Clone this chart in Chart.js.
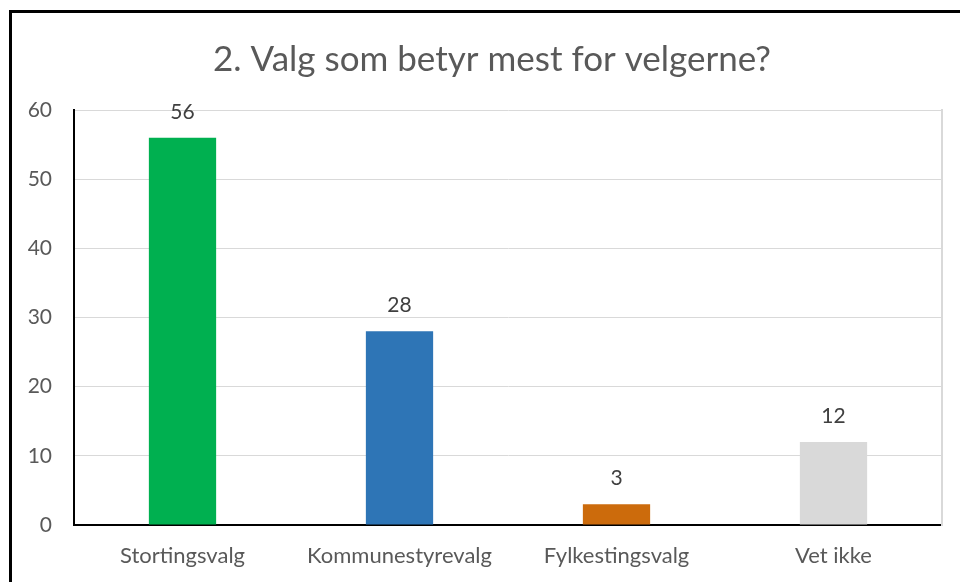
<!DOCTYPE html>
<html lang="no">
<head>
  <meta charset="UTF-8">
  <title>Valg som betyr mest for velgerne</title>
  <script src="https://cdn.jsdelivr.net/npm/chart.js"></script>
  <style>
    html, body { margin: 0; padding: 0; background: #fff; overflow: hidden; }
    #wrap { position: relative; width: 960px; height: 582px; }
    #frame {
      position: absolute; left: 9px; top: 10px; width: 1000px; height: 620px;
      border: 3px solid #000; pointer-events: none; box-sizing: border-box;
    }
  </style>
</head>
<body>
<div id="wrap">
  <canvas id="valgChart" width="960" height="582"></canvas>
  <div id="frame"></div>
</div>

<script>
  const titleText = '2. Valg som betyr mest for velgerne?';
  const categories = ['Stortingsvalg', 'Kommunestyrevalg', 'Fylkestingsvalg', 'Vet ikke'];
  const votes = [56, 28, 3, 12];
  const barColors = ['#00B050', '#2E75B6', '#CC6B0C', '#D9D9D9'];
  const yMax = 60;
  const yStep = 10;

  const fontFamily = 'Lato, Carlito, "Open Sans", sans-serif';
  const textGray = '#595959';

  // title drawn by hand so it can sit a little right of the canvas centre, like the original
  const chartTitle = {
    id: 'chartTitle',
    afterDraw(chart) {
      const ctx = chart.ctx;
      ctx.save();
      ctx.font = '35px ' + fontFamily;
      ctx.fillStyle = textGray;
      ctx.textAlign = 'center';
      ctx.textBaseline = 'alphabetic';
      ctx.fillText(titleText, 492, 71);
      ctx.restore();
    }
  };

  // value labels above the bars
  const valueLabels = {
    id: 'valueLabels',
    afterDatasetsDraw(chart) {
      const ctx = chart.ctx;
      const meta = chart.getDatasetMeta(0);
      ctx.save();
      ctx.font = '21px ' + fontFamily;
      ctx.fillStyle = '#404040';
      ctx.textAlign = 'center';
      ctx.textBaseline = 'alphabetic';
      meta.data.forEach((bar, i) => {
        ctx.fillText(String(votes[i]), bar.x, bar.y - 19);
      });
      ctx.restore();
    }
  };

  Chart.defaults.font.family = fontFamily;
  Chart.defaults.color = textGray;

  new Chart(document.getElementById('valgChart'), {
    type: 'bar',
    data: {
      labels: categories,
      datasets: [{
        data: votes,
        backgroundColor: barColors,
        borderWidth: 0,
        categoryPercentage: 1,
        barPercentage: 0.31
      }]
    },
    options: {
      responsive: false,
      animation: false,
      layout: { padding: { left: 0, right: 18, top: 110, bottom: 0 } },
      plugins: {
        legend: { display: false },
        tooltip: { enabled: false },
        title: { display: false }
      },
      scales: {
        x: {
          grid: { display: false, drawTicks: false },
          border: { display: true, color: '#000', width: 2 },
          ticks: { color: textGray, font: { size: 22 }, padding: 18, maxRotation: 0 },
          afterFit(scale) { scale.height = 57; }
        },
        y: {
          min: 0,
          max: yMax,
          grid: { color: '#D9D9D9', lineWidth: 1, drawTicks: false },
          border: { display: true, color: '#000', width: 2 },
          ticks: { stepSize: yStep, color: textGray, font: { size: 21 }, padding: 22 },
          afterFit(scale) { scale.width = 74; }
        },
        yRight: {
          position: 'right',
          min: 0,
          max: yMax,
          grid: { display: false, drawTicks: false },
          border: { display: true, color: '#D9D9D9', width: 2 },
          ticks: { display: false },
          afterFit(scale) { scale.width = 0; }
        }
      }
    },
    plugins: [chartTitle, valueLabels]
  });
</script>
</body>
</html>
